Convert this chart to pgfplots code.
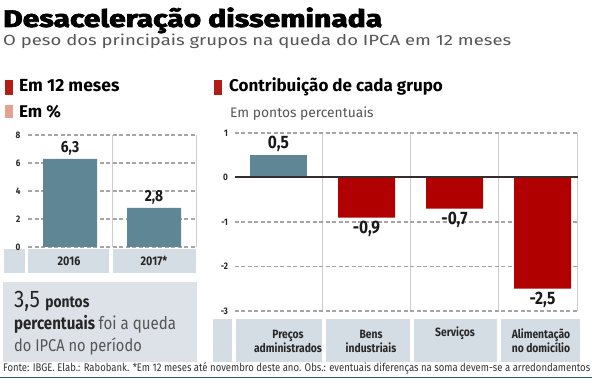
\documentclass[border=0pt]{standalone}
\usepackage{pgfplots}
\pgfplotsset{compat=1.18}
\usepackage{fontspec}
\setmainfont{Fira Sans}[FakeStretch=0.86]
\newfontfamily\wide{Fira Sans}
\newfontfamily\titlefont{Fira Sans}[FakeStretch=0.86, BoldFeatures={FakeBold=2.5}]
\definecolor{barblue}{RGB}{94,134,148}
\definecolor{barred}{RGB}{176,0,0}
\definecolor{legred}{RGB}{178,30,22}
\definecolor{legpink}{RGB}{230,160,146}
\definecolor{cellc}{RGB}{212,221,227}
\definecolor{boxc}{RGB}{220,226,231}
\definecolor{hgridc}{RGB}{165,165,165}
\definecolor{gridv}{RGB}{205,205,205}
\definecolor{tickc}{RGB}{40,40,40}
\definecolor{subc}{RGB}{85,85,85}
\definecolor{zeroc}{RGB}{55,45,45}
\definecolor{footline}{RGB}{40,90,105}
\begin{document}
\begin{tikzpicture}[x=1pt,y=1pt]
\path[use as bounding box] (0,0) rectangle (592,387);
\fill[white] (0,0) rectangle (592,387);
% title and subtitle
\node[anchor=base west, inner sep=0] at (3,360) {\resizebox{379pt}{19.5pt}{\titlefont\bfseries Desaceleração disseminada}};
\node[anchor=base west, inner sep=0, text=subc] at (3,341) {\resizebox{508pt}{11.5pt}{O peso dos principais grupos na queda do IPCA em 12 meses}};
% legends
\fill[legred] (5,292) rectangle (13,307);
\node[anchor=base west, inner sep=0] at (19,295) {\wide\fontsize{17.5}{17.5}\selectfont\bfseries Em 12 meses};
\fill[legpink] (5,269) rectangle (13,282);
\node[anchor=base west, inner sep=0] at (19,269) {\wide\fontsize{17}{17}\selectfont\bfseries Em \%};
\fill[legred] (214,292) rectangle (222,307);
\node[anchor=base west, inner sep=0] at (229,295) {\wide\fontsize{17}{17}\selectfont\bfseries Contribuição de cada grupo};
\node[anchor=base west, inner sep=0, text=subc] at (230,269) {\wide\fontsize{13.8}{13.8}\selectfont Em pontos percentuais};
% category cells left
\fill[cellc] (4,114) rectangle (25,138);
\fill[cellc] (28,114) rectangle (109,138);
\fill[cellc] (113,114) rectangle (196,138);
\node[font=\fontsize{12.5}{12.5}\selectfont\bfseries, text=tickc] at (69,126) {2016};
\node[font=\fontsize{12.5}{12.5}\selectfont\bfseries, text=tickc] at (154,126) {2017*};
% category cells right
\fill[cellc] (213,25) rectangle (232,68);
\fill[cellc] (236,25) rectangle (322,68);
\fill[cellc] (326,25) rectangle (410,68);
\fill[cellc] (414,25) rectangle (497,68);
\fill[cellc] (501,25) rectangle (580,68);
\node[font=\fontsize{12}{14}\selectfont\bfseries, text=tickc, align=center] at (288,46) {Preços\\administrados};
\node[font=\fontsize{12}{14}\selectfont\bfseries, text=tickc, align=center] at (371,46) {Bens\\industriais};
\node[font=\fontsize{12}{14}\selectfont\bfseries, text=tickc, align=center, anchor=base] at (455,50) {Serviços};
\node[font=\fontsize{12}{14}\selectfont\bfseries, text=tickc, align=center] at (541,46) {Alimentação\\no domicílio};
% info box
\fill[boxc] (3,25) rectangle (197,105);
\node[anchor=base west, inner sep=0, text=black!85] at (14,79) {\fontsize{24}{24}\selectfont 3,5 \fontsize{16}{16}\selectfont\bfseries pontos};
\node[anchor=base west, inner sep=0, text=black!85] at (14,57) {\fontsize{17.5}{17.5}\selectfont\bfseries percentuais \mdseries\color{subc}foi a queda};
\node[anchor=base west, inner sep=0, text=subc] at (14,35) {\fontsize{17}{17}\selectfont do IPCA no período};
% footer
\node[anchor=base west, inner sep=0, text=black!80] at (3,15) {\resizebox{587pt}{!}{\fontsize{7}{7}\selectfont Fonte: IBGE. Elab.: Rabobank. *Em 12 meses até novembro deste ano. Obs.: eventuais diferenças na soma devem-se a arredondamentos}};
\draw[footline, line width=1.6pt] (0,9.5) -- (592,9.5);

% left axis
\begin{axis}[
 at={(28pt,140pt)}, anchor=south west, scale only axis,
 width=168pt, height=112pt,
 xmin=0.5, xmax=2.5, ymin=0, ymax=8,
 axis line style={draw=none}, major tick length=0pt,
 ytick={0,2,4,6,8}, xtick={1.5,2.5}, xticklabels={},
 xmajorgrids,
 grid style={gridv, line width=0.8pt, solid},
 yticklabel style={font=\fontsize{9.5}{9.5}\selectfont\bfseries, text=tickc, xshift=-4pt},
 /pgf/number format/assume math mode=true,
 clip=false,
]
\addplot[hgridc, line width=1.4pt, dash pattern=on 4pt off 2.5pt, mark=none, forget plot] coordinates {(0.5,8) (2.5,8)};
\addplot[hgridc, line width=1.4pt, dash pattern=on 4pt off 2.5pt, mark=none, forget plot] coordinates {(0.5,6) (2.5,6)};
\addplot[hgridc, line width=1.4pt, dash pattern=on 4pt off 2.5pt, mark=none, forget plot] coordinates {(0.5,4) (2.5,4)};
\addplot[hgridc, line width=1.4pt, dash pattern=on 4pt off 2.5pt, mark=none, forget plot] coordinates {(0.5,2) (2.5,2)};
\addplot[hgridc, line width=1.4pt, dash pattern=on 4pt off 2.5pt, mark=none, forget plot] coordinates {(0.5,0) (2.5,0)};
\addplot[ybar, bar width=54pt, fill=barblue, draw=none,
  nodes near coords,
  nodes near coords style={font=\fontsize{16}{16}\selectfont\bfseries, text=black!90},
  /pgf/number format/.cd, use comma, fixed, fixed zerofill, precision=1]
  coordinates {(1,6.3) (2,2.8)};
\end{axis}

% right axis
\begin{axis}[
 at={(234.5pt,76pt)}, anchor=south west, scale only axis,
 width=343.2pt, height=178pt,
 xmin=0.5, xmax=4.4, ymin=-3, ymax=1,
 axis line style={draw=none}, major tick length=0pt,
 ytick={-3,-2,-1,0,1}, xtick={1.5,2.5,3.5,4.4}, xticklabels={},
 xmajorgrids,
 grid style={gridv, line width=0.8pt, solid},
 yticklabel style={font=\fontsize{9.5}{9.5}\selectfont\bfseries, text=tickc, xshift=-3pt},
 /pgf/number format/assume math mode=true,
 clip=false,
]
\addplot[hgridc, line width=1.4pt, dash pattern=on 4pt off 2.5pt, mark=none, forget plot] coordinates {(0.5,1) (4.4,1)};
\addplot[hgridc, line width=1.4pt, dash pattern=on 4pt off 2.5pt, mark=none, forget plot] coordinates {(0.5,-1) (4.4,-1)};
\addplot[hgridc, line width=1.4pt, dash pattern=on 4pt off 2.5pt, mark=none, forget plot] coordinates {(0.5,-2) (4.4,-2)};
\addplot[hgridc, line width=1.4pt, dash pattern=on 4pt off 2.5pt, mark=none, forget plot] coordinates {(0.5,-3) (4.4,-3)};
\addplot[ybar, bar width=57pt, bar shift=0pt, fill=barblue, draw=none,
  nodes near coords,
  nodes near coords style={font=\fontsize{18}{18}\selectfont\bfseries, text=black!90},
  /pgf/number format/.cd, use comma, fixed, fixed zerofill, precision=1]
  coordinates {(1,0.5)};
\addplot[ybar, bar width=57pt, bar shift=0pt, fill=barred, draw=none,
  nodes near coords,
  nodes near coords style={font=\fontsize{18}{18}\selectfont\bfseries, text=black!90},
  /pgf/number format/.cd, use comma, fixed, fixed zerofill, precision=1]
  coordinates {(2,-0.9) (3,-0.7) (4,-2.5)};
\addplot[zeroc, line width=2pt, mark=none] coordinates {(0.5,0) (4.4,0)};
\end{axis}
\end{tikzpicture}
\end{document}
